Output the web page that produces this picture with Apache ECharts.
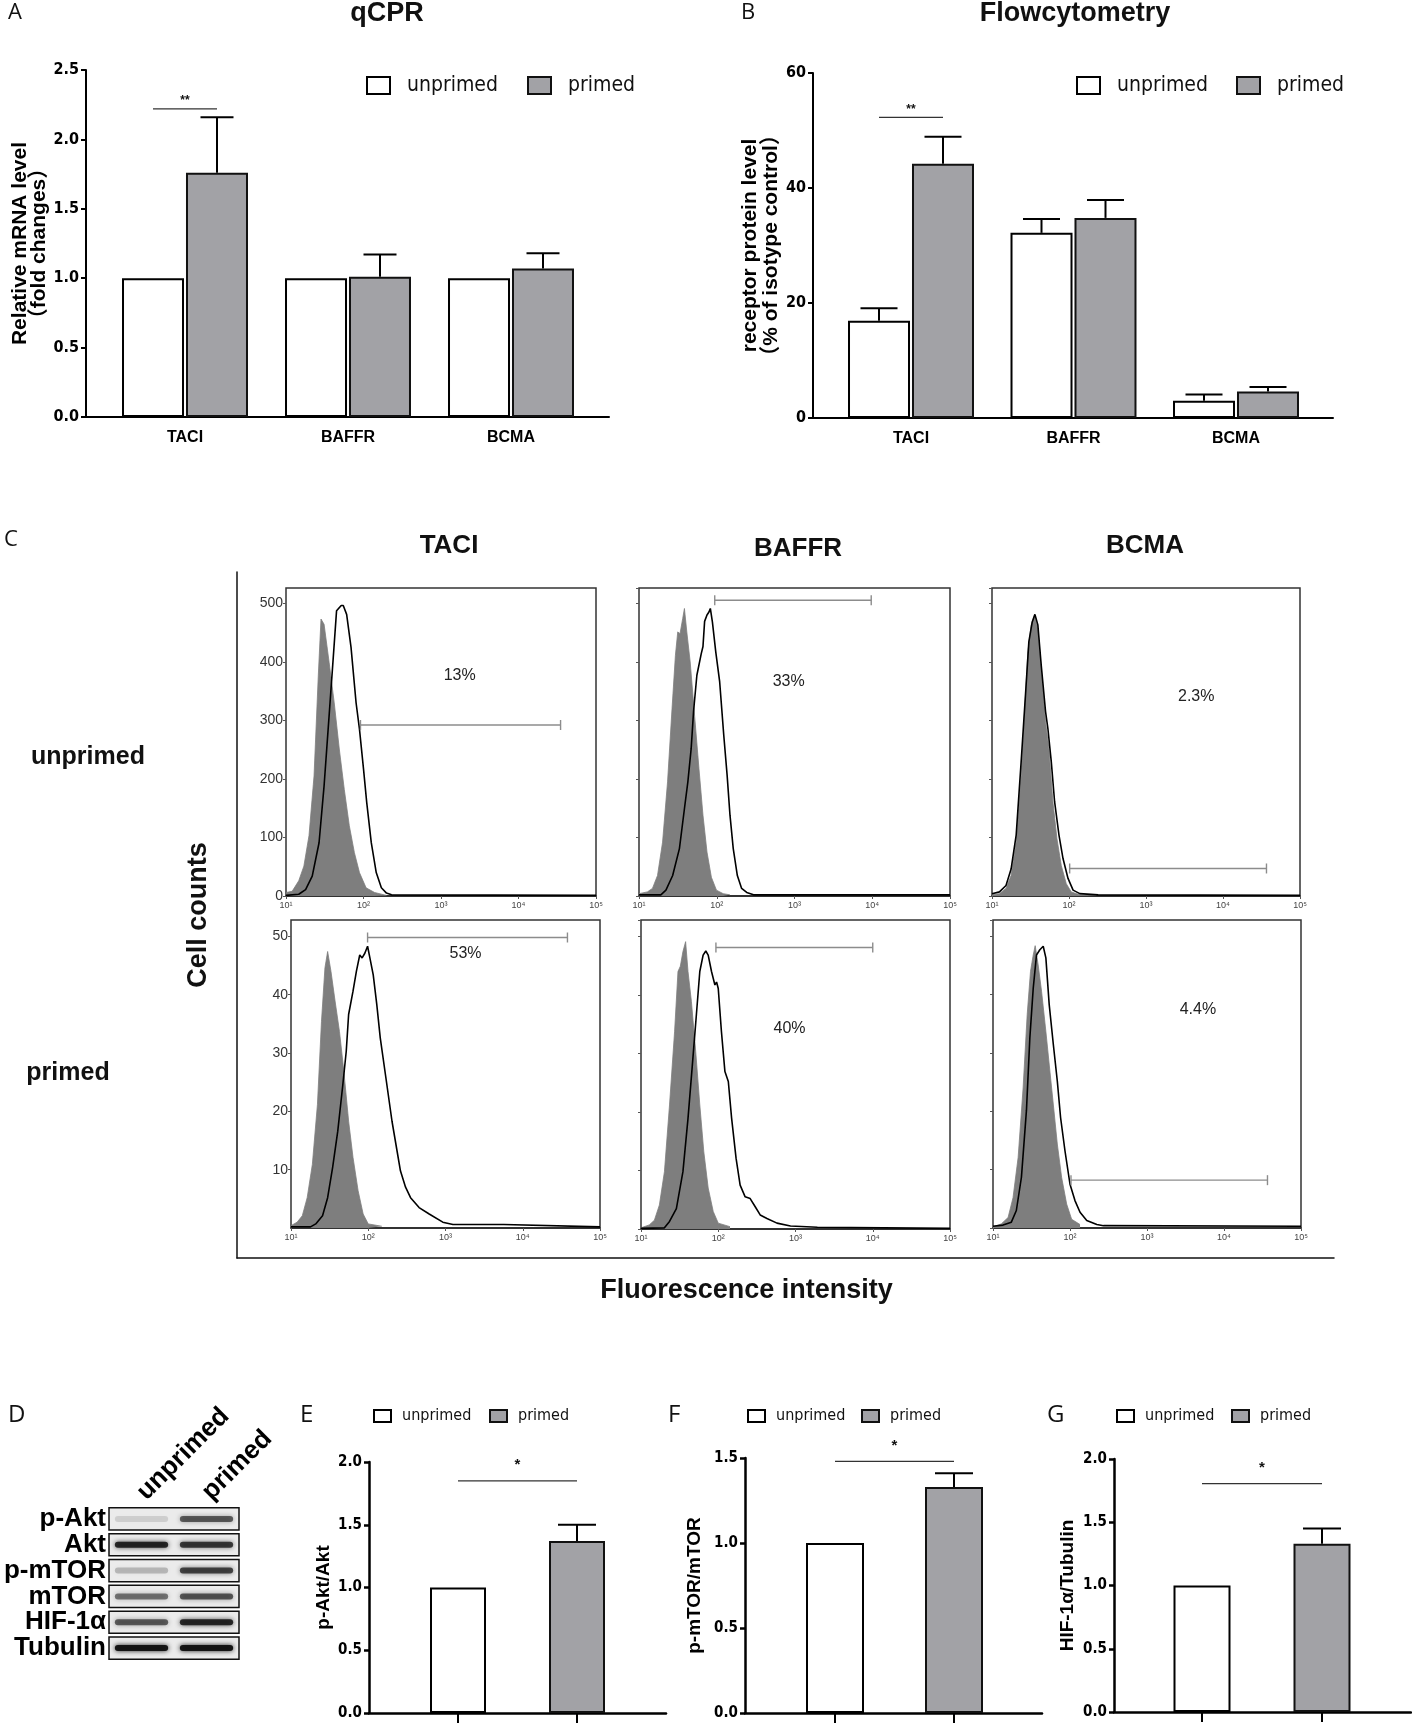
<!DOCTYPE html>
<html>
<head>
<meta charset="utf-8">
<script src="https://cdn.jsdelivr.net/npm/echarts@6.0.0/dist/echarts.min.js"></script>
<style>
  html, body { margin: 0; padding: 0; background: #fff; }
  #main { width: 1412px; height: 1727px; }
</style>
</head>
<body>
<div id="main"></div>
<script>
// ---- data ----
var receptorCats = ['TACI', 'BAFFR', 'BCMA'];
var groupCats = ['unprimed', 'primed'];

// A: qPCR (fold change)
var qpcrUnprimed = [1.0, 1.0, 1.0];
var qpcrPrimed = [1.76, 1.01, 1.07];
var qpcrPrimedErr = [0.40, 0.16, 0.11];
var qpcrSig = [[0, 0, 2.22]];
var qpcrSigText = ['**'];

// B: flow cytometry (% of isotype control)
var flowUnprimed = [16.9, 32.2, 3.0];
var flowUnprimedErr = [2.2, 2.4, 1.1];
var flowPrimed = [44.2, 34.8, 4.6];
var flowPrimedErr = [4.7, 3.1, 0.8];
var flowSig = [[0, 0, 52.3]];
var flowSigText = ['**'];

// C: histograms [fluorescence, cell count]
var taciUnprimedIso = [[10,6],[12,8],[14.6,26],[17,51],[19.8,103],[23,205],[26.1,376],[28.3,473],[31,464],[36,399],[41.9,330],[48.7,251],[56.5,182],[65.6,120],[76.3,74],[88.7,40],[108,14],[139,6],[198,1]];
var taciUnprimedStain = [[10,1],[14.6,3],[17.9,11],[21.8,34],[26.7,91],[31,188],[36,308],[40.6,405],[44.9,487],[47.6,490],[51.6,496],[54.8,496],[60.6,481],[69,425],[80.2,330],[88.7,285],[100,217],[110,160],[126,91],[146,40],[170,14],[198,5],[230,2],[100000,1]];
var baffrUnprimedIso = [[10,4],[12.8,7],[14.9,13],[17.3,35],[20.1,92],[23.3,195],[26.6,320],[29.4,411],[31.5,451],[33.7,448],[36.5,474],[38.4,491],[41.2,451],[45.5,400],[51.8,309],[59,218],[66.5,138],[74.9,75],[85.3,32],[99.1,10],[121,4],[148,2]];
var baffrUnprimedStain = [[10,2],[19.1,2],[22.2,10],[27.1,35],[33.1,81],[38.4,149],[42.5,195],[46.9,252],[50.3,315],[55.5,377],[63.2,414],[66.5,426],[69.8,469],[74.9,480],[79.4,485],[82.7,491],[87.9,468],[97.1,417],[109,366],[123,275],[136,206],[148,138],[163,81],[184,35],[209,13],[243,6],[297,2],[100000,2]];
var bcmaUnprimedIso = [[10,2],[12.5,4],[15.2,13],[17.7,35],[20.6,92],[23.9,206],[26.4,309],[29.2,417],[32.3,463],[35.7,480],[39.4,457],[43.6,388],[49.6,297],[54.8,252],[61.8,161],[69.7,98],[79.4,52],[92.2,21],[107,7],[138,2],[227,1]];
var bcmaUnprimedStain = [[10,4],[12.5,7],[15.2,18],[17.7,46],[20.6,104],[23.9,229],[27.2,343],[30.1,434],[33.3,468],[36.1,481],[39.4,463],[43.6,394],[49.6,315],[53.2,286],[58.9,229],[65,161],[74.1,104],[83.6,64],[97.1,30],[113,10],[138,4],[239,2],[100000,1]];
var taciPrimedIso = [[10,0.4],[12,1.0],[14,2.1],[16.2,5.2],[18.9,10.9],[22,21.2],[24.8,35.4],[27.5,44.6],[29.8,47.4],[32.9,44],[37.2,38.9],[42.4,33.7],[48.3,26.9],[55.7,18.3],[63.5,12.1],[73.9,6.4],[85.9,2.4],[100,0.7],[150,0.3]];
var taciPrimedStain = [[10,0.2],[17.9,0.2],[20.9,0.7],[25.6,2.1],[29.8,5.2],[34.6,10.4],[40.3,16.6],[46.9,24.6],[51.9,30.3],[55.7,36.6],[63.5,40.6],[70.2,44],[77.6,46.8],[83.3,46.3],[90.3,47.1],[98,48.3],[105,46.3],[116,43.4],[129,38.3],[143,32.6],[169,25.8],[203,18.3],[236,13.2],[261,9.8],[304,7],[353,5.2],[455,3.5],[615,2.4],[922,1],[1248,0.6],[2070,0.6],[5680,0.6],[100000,0.2]];
var baffrPrimedIso = [[10,0.2],[12.8,0.7],[14.9,1.5],[17.3,4.1],[20.1,9.8],[23.4,21.2],[27.2,33.7],[30.1,44],[32.3,44.9],[34.9,47.4],[37.8,49.1],[40.6,44],[44.9,38.9],[51.1,30.3],[57.7,21.2],[65,13.2],[74.1,7],[86.1,3],[100,1],[142,0.4]];
var baffrPrimedStain = [[10,0.1],[20.1,0.2],[23.4,1.3],[28.7,3.5],[34.9,9.8],[40.6,18.9],[46.2,28],[52.1,36.6],[57.7,44],[63.7,46.8],[69,47.5],[74.1,46.8],[81.8,44],[90.5,41.7],[95.1,42.2],[100,41.1],[110,33.7],[122,26.9],[135,25.2],[149,18.9],[170,12.1],[192,7.5],[223,5.5],[259,5.2],[301,3.8],[349,2.4],[427,1.8],[576,1],[861,0.5],[1920,0.3],[100000,0.1]];
var bcmaPrimedIso = [[10,0.2],[12.8,0.7],[15.7,1.8],[18.2,5.2],[21.2,12.1],[24.6,24],[27.8,36.6],[30.7,44],[33.3,46.8],[35.3,48.4],[38.6,45.1],[42.7,40.6],[48.6,33.7],[54.8,26.9],[61.8,20.2],[68.4,14.4],[77.8,8.7],[90.5,4.1],[105,1.5],[135,0.6]];
var bcmaPrimedStain = [[10,0.3],[13.5,0.5],[17.3,1],[20.1,3],[23.4,8.7],[27.2,20.2],[30.1,32.6],[33.3,41.1],[36.7,46.8],[40.6,47.7],[44.9,48.3],[48.6,46.3],[53.7,38.3],[60.7,31.5],[68.4,25.2],[75.5,18.9],[86.1,13.2],[100,7.5],[116,4.7],[135,2.7],[165,1.3],[223,0.6],[272,0.4],[100000,0.3]];

// gates [from, to, count] and percentages [x, count]
var histGates = [[91.4, 34900, 292], [94.2, 9700, 505], [102, 36700, 47], [98, 37900, 49.8], [93.3, 10000, 48.1], [103, 36700, 8.2]];
var histPctPos = [[1740, 376], [843, 367], [4490, 340], [1815, 47.1], [836, 34.3], [4580, 37.5]];
var histPctText = ['13%', '33%', '2.3%', '53%', '40%', '4.4%'];
var histYMax = [526, 526, 526, 52.8, 52.8, 52.8];
var histYStep = [100, 100, 100, 10, 10, 10];
var logTickLabels = ['10\u00b9', '10\u00b2', '10\u00b3', '10\u2074', '10\u2075'];

// D: western blot band intensity (0..1)
var blotRows = ['p-Akt', 'Akt', 'p-mTOR', 'mTOR', 'HIF-1\u03b1', 'Tubulin'];
var blotUnprimed = [0.12, 0.85, 0.22, 0.5, 0.6, 0.95];
var blotPrimed = [0.6, 0.75, 0.7, 0.62, 0.85, 0.95];

// E-G: ratios
var aktRatio = [1.0, 1.37];
var aktErr = [0, 0.13];
var aktSig = [[0, 1, 1.85]];
var mtorRatio = [1.0, 1.33];
var mtorErr = [0, 0.08];
var mtorSig = [[0, 1, 1.48]];
var hifRatio = [1.0, 1.33];
var hifErr = [0, 0.12];
var hifSig = [[0, 1, 1.805]];
var starText = ['*'];

// ---- fonts / colours ----
var NARROW = "'Liberation Sans Narrow','Arial Narrow','DejaVu Sans Condensed','Liberation Sans',sans-serif";
var ARIAL = "'Liberation Sans',Arial,'Noto Sans CJK SC',sans-serif";
var LETTER = "'Open Sans','Noto Sans',sans-serif";
var GRAY_BAR = '#a2a2a6';
var ISO_GRAY = '#7e7e7e';

var myChart = echarts.init(document.getElementById('main'));
var grid = [], xAxis = [], yAxis = [], series = [], legend = [], title = [];

function errRender(dx, capW) {
  return function (params, api) {
    var b = api.coord([api.value(0), api.value(1)]);
    var t = api.coord([api.value(0), api.value(1) + api.value(2)]);
    var x = b[0] + dx;
    var st = { stroke: '#000', lineWidth: 2 };
    return { type: 'group', children: [
      { type: 'line', shape: { x1: x, y1: b[1], x2: x, y2: t[1] }, style: st },
      { type: 'line', shape: { x1: x - capW / 2, y1: t[1], x2: x + capW / 2, y2: t[1] }, style: st }
    ] };
  };
}

function sigRender(dx0, dx1, texts, font, gap) {
  return function (params, api) {
    var a = api.coord([api.value(0), api.value(2)]);
    var b = api.coord([api.value(1), api.value(2)]);
    var x0 = a[0] + dx0, x1 = b[0] + dx1;
    return { type: 'group', children: [
      { type: 'line', shape: { x1: x0, y1: a[1], x2: x1, y2: a[1] }, style: { stroke: '#333', lineWidth: 1.3 } },
      { type: 'text', x: (x0 + x1) / 2, y: a[1] - gap, style: { text: texts[params.dataIndex], fill: '#111',
        font: 'bold ' + font + 'px ' + ARIAL, align: 'center', verticalAlign: 'bottom',
        textAlign: 'center', textVerticalAlign: 'bottom' } }
    ] };
  };
}

function addLegend(name, pos, lg) {
  legend.push({
    data: [name], left: pos[0], top: pos[1], icon: 'rect', padding: 0, itemGap: 0,
    itemWidth: lg.w, itemHeight: lg.h, selectedMode: false,
    textStyle: { fontFamily: NARROW, fontSize: lg.font, color: '#111', lineHeight: lg.h, padding: [0, 0, 0, lg.pad] }
  });
}

function addBarPanel(p) {
  var gf = grid.length;
  grid.push({ left: p.axisLeft, top: p.top, width: p.axisRight - p.axisLeft, height: p.bottom - p.top });
  var gb = grid.length;
  grid.push({ left: p.barLeft, top: p.top, width: p.barRight - p.barLeft, height: p.bottom - p.top });

  xAxis.push({ gridIndex: gf, type: 'value', min: 0, max: 1,
    axisLine: { show: true, onZero: false, lineStyle: { color: '#000', width: p.axisW } },
    axisTick: { show: false }, axisLabel: { show: false }, splitLine: { show: false } });
  yAxis.push({ gridIndex: gf, type: 'value', min: 0, max: p.yMax, interval: p.yInt,
    axisLine: { show: true, onZero: false, lineStyle: { color: '#000', width: p.axisW } },
    axisTick: { show: true, length: 5, lineStyle: { color: '#000', width: p.axisW } },
    splitLine: { show: false },
    axisLabel: { fontFamily: NARROW, fontWeight: 'bold', fontSize: p.tickFont, color: '#000', margin: 7,
      formatter: function (v) { return v.toFixed(p.dec); } },
    name: p.yName, nameLocation: 'middle', nameGap: p.nameGap,
    nameTextStyle: { fontFamily: ARIAL, fontWeight: 'bold', fontSize: p.nameFont, lineHeight: p.nameLH, color: '#000' } });

  var xb = xAxis.length;
  xAxis.push({ gridIndex: gb, type: 'category', data: p.cats,
    axisLine: { show: false },
    axisTick: p.paired ? { show: false } : { show: true, alignWithLabel: true, length: 10, lineStyle: { color: '#000', width: 2 } },
    axisLabel: p.paired ? { fontFamily: ARIAL, fontWeight: 'bold', fontSize: p.catFont, color: '#000', margin: 13 } : { show: false } });
  var yb = yAxis.length;
  yAxis.push({ gridIndex: gb, type: 'value', min: 0, max: p.yMax, show: false });

  var half = (p.bw + p.gapPx) / 2;
  var uData, pData, dxU, dxP, gapStr;
  if (p.paired) {
    uData = p.unprimed; pData = p.primed; dxU = -half; dxP = half;
    gapStr = (p.gapPx / p.bw * 100).toFixed(1) + '%';
  } else {
    uData = p.values.map(function (v, i) { return i === 0 ? v : '-'; });
    pData = p.values.map(function (v, i) { return i === 1 ? v : '-'; });
    dxU = 0; dxP = 0; gapStr = '-100%';
  }
  series.push({ name: 'unprimed', type: 'bar', xAxisIndex: xb, yAxisIndex: yb, data: uData,
    barWidth: p.bw, barGap: gapStr, itemStyle: { color: '#fff', borderColor: '#000', borderWidth: 2 } });
  series.push({ name: 'primed', type: 'bar', xAxisIndex: xb, yAxisIndex: yb, data: pData,
    barWidth: p.bw, barGap: gapStr, itemStyle: { color: GRAY_BAR, borderColor: '#111', borderWidth: 2 } });

  function errSeries(vals, errs, dx) {
    var d = [];
    vals.forEach(function (v, i) { if (errs[i] > 0) d.push([i, v, errs[i]]); });
    series.push({ type: 'custom', xAxisIndex: xb, yAxisIndex: yb, data: d, z: 3,
      renderItem: errRender(dx, p.capW) });
  }
  if (p.paired) {
    if (p.unprimedErr) errSeries(p.unprimed, p.unprimedErr, dxU);
    errSeries(p.primed, p.primedErr, dxP);
  } else {
    errSeries(p.values, p.errs, 0);
  }
  series.push({ type: 'custom', xAxisIndex: xb, yAxisIndex: yb, data: p.sig, z: 4, clip: false,
    renderItem: p.paired ? sigRender(-half, half, p.sigText, p.starFont, p.starGap)
                         : sigRender(0, 0, p.sigText, p.starFont, p.starGap) });

  addLegend('unprimed', p.legU, p.lg);
  addLegend('primed', p.legP, p.lg);
}

// ---- A ----
addBarPanel({ axisLeft: 86, axisRight: 609, top: 70, bottom: 417, barLeft: 103.5, barRight: 592.5,
  yMax: 2.5, yInt: 0.5, dec: 1, cats: receptorCats, paired: true,
  unprimed: qpcrUnprimed, primed: qpcrPrimed, unprimedErr: null, primedErr: qpcrPrimedErr,
  sig: qpcrSig, sigText: qpcrSigText, bw: 62, gapPx: 2, capW: 33, axisW: 2,
  tickFont: 16, catFont: 16, yName: 'Relative mRNA level\n\uff08fold changes\uff09', nameGap: 34, nameFont: 21, nameLH: 19,
  starFont: 12, starGap: 2, legU: [366, 75], legP: [527, 75], lg: { w: 23, h: 17, font: 21, pad: 12 } });

// ---- B ----
addBarPanel({ axisLeft: 813, axisRight: 1333, top: 73, bottom: 418, barLeft: 829.75, barRight: 1317.25,
  yMax: 60, yInt: 20, dec: 0, cats: receptorCats, paired: true,
  unprimed: flowUnprimed, primed: flowPrimed, unprimedErr: flowUnprimedErr, primedErr: flowPrimedErr,
  sig: flowSig, sigText: flowSigText, bw: 62, gapPx: 2, capW: 37, axisW: 2,
  tickFont: 16, catFont: 16, yName: 'receptor protein level\n\uff08% of isotype control\uff09', nameGap: 31, nameFont: 21, nameLH: 21,
  starFont: 12, starGap: 2, legU: [1076, 75], legP: [1236, 75], lg: { w: 23, h: 17, font: 21, pad: 12 } });

// ---- E, F, G ----
var smallLg = { w: 17, h: 12, font: 16, pad: 6 };
addBarPanel({ axisLeft: 369, axisRight: 666, top: 1462, bottom: 1713, barLeft: 398.5, barRight: 636.5,
  yMax: 2, yInt: 0.5, dec: 1, cats: groupCats, paired: false, values: aktRatio, errs: aktErr,
  sig: aktSig, sigText: starText, bw: 56, gapPx: 0, capW: 38, axisW: 2.5,
  tickFont: 15, yName: 'p-Akt/Akt', nameGap: 31, nameFont: 19, nameLH: 20,
  starFont: 15, starGap: 8, legU: [373, 1408], legP: [489, 1408], lg: smallLg });
addBarPanel({ axisLeft: 745, axisRight: 1042, top: 1458, bottom: 1713, barLeft: 775.5, barRight: 1013.5,
  yMax: 1.5, yInt: 0.5, dec: 1, cats: groupCats, paired: false, values: mtorRatio, errs: mtorErr,
  sig: mtorSig, sigText: starText, bw: 58, gapPx: 0, capW: 38, axisW: 2.5,
  tickFont: 15, yName: 'p-mTOR/mTOR', nameGap: 40, nameFont: 19, nameLH: 20,
  starFont: 15, starGap: 8, legU: [747, 1408], legP: [861, 1408], lg: smallLg });
addBarPanel({ axisLeft: 1114, axisRight: 1411, top: 1459, bottom: 1712, barLeft: 1142, barRight: 1382,
  yMax: 2, yInt: 0.5, dec: 1, cats: groupCats, paired: false, values: hifRatio, errs: hifErr,
  sig: hifSig, sigText: starText, bw: 57, gapPx: 0, capW: 38, axisW: 2.5,
  tickFont: 15, yName: 'HIF-1\u03b1/Tubulin', nameGap: 36, nameFont: 19, nameLH: 20,
  starFont: 15, starGap: 8, legU: [1116, 1408], legP: [1231, 1408], lg: smallLg });

// ---- C: outer frame with axis names ----
var gc = grid.length;
grid.push({ left: 237, top: 572, width: 1097, height: 686 });
xAxis.push({ gridIndex: gc, type: 'value', min: 0, max: 1,
  axisLine: { show: true, onZero: false, lineStyle: { color: '#111', width: 1.5 } },
  axisTick: { show: false }, axisLabel: { show: false }, splitLine: { show: false },
  name: 'Fluorescence intensity', nameLocation: 'middle', nameGap: 19,
  nameTextStyle: { fontFamily: ARIAL, fontWeight: 'bold', fontSize: 27, color: '#111', padding: [0, 78, 0, 0] } });
yAxis.push({ gridIndex: gc, type: 'value', min: 0, max: 1,
  axisLine: { show: true, onZero: false, lineStyle: { color: '#111', width: 1.5 } },
  axisTick: { show: false }, axisLabel: { show: false }, splitLine: { show: false },
  name: 'Cell counts', nameLocation: 'middle', nameGap: 25,
  nameTextStyle: { fontFamily: ARIAL, fontWeight: 'bold', fontSize: 27, color: '#111' } });

// ---- C: histograms ----
var histIso = [taciUnprimedIso, baffrUnprimedIso, bcmaUnprimedIso, taciPrimedIso, baffrPrimedIso, bcmaPrimedIso];
var histStain = [taciUnprimedStain, baffrUnprimedStain, bcmaUnprimedStain, taciPrimedStain, baffrPrimedStain, bcmaPrimedStain];
var histBoxes = [[286, 588, 310, 308], [639, 588, 311, 308], [992, 588, 308, 308],
                 [291, 920, 309, 308], [641, 920, 309, 309], [993, 920, 308, 308]];

function gateRender(params, api) {
  var a = api.coord([api.value(0), api.value(2)]);
  var b = api.coord([api.value(1), api.value(2)]);
  var st = { stroke: '#8c8c8c', lineWidth: 1.4 };
  return { type: 'group', children: [
    { type: 'line', shape: { x1: a[0], y1: a[1], x2: b[0], y2: b[1] }, style: st },
    { type: 'line', shape: { x1: a[0], y1: a[1] - 5, x2: a[0], y2: a[1] + 5 }, style: st },
    { type: 'line', shape: { x1: b[0], y1: b[1] - 5, x2: b[0], y2: b[1] + 5 }, style: st }
  ] };
}

histBoxes.forEach(function (bx, k) {
  var g = grid.length;
  grid.push({ left: bx[0], top: bx[1], width: bx[2], height: bx[3], show: true,
    borderColor: '#333', borderWidth: 1.5, backgroundColor: '#fff' });
  var xi = xAxis.length;
  xAxis.push({ gridIndex: g, type: 'log', logBase: 10, min: 10, max: 100000, splitNumber: 4,
    axisLine: { show: true, onZero: false, lineStyle: { color: '#222', width: 1.5 } },
    axisTick: { show: true, length: 3, lineStyle: { color: '#555', width: 1 } },
    splitLine: { show: false },
    axisLabel: { fontFamily: ARIAL, fontSize: 9, color: '#444', margin: 5,
      formatter: function (v) { return logTickLabels[Math.round(Math.log10(v)) - 1]; } } });
  var yi = yAxis.length;
  var first = (k % 3 === 0);
  yAxis.push({ gridIndex: g, type: 'value', min: 0, max: histYMax[k], interval: histYStep[k],
    axisLine: { show: false }, splitLine: { show: false },
    axisTick: { show: true, length: 3, lineStyle: { color: '#555', width: 1 } },
    axisLabel: { show: first, fontFamily: ARIAL, fontSize: 14, color: '#333', margin: 3,
      showMaxLabel: false, showMinLabel: k === 0 } });
  series.push({ type: 'line', name: 'isotype', xAxisIndex: xi, yAxisIndex: yi, data: histIso[k],
    symbol: 'none', lineStyle: { width: 0.8, color: ISO_GRAY }, areaStyle: { color: ISO_GRAY, opacity: 1 }, z: 2 });
  series.push({ type: 'line', name: 'stained', xAxisIndex: xi, yAxisIndex: yi, data: histStain[k],
    symbol: 'none', lineStyle: { width: 1.6, color: '#000' }, z: 3 });
  series.push({ type: 'custom', xAxisIndex: xi, yAxisIndex: yi, data: [histGates[k]], z: 4, renderItem: gateRender });
  series.push({ type: 'custom', xAxisIndex: xi, yAxisIndex: yi, data: [histPctPos[k]], z: 4,
    renderItem: function (params, api) {
      var c = api.coord([api.value(0), api.value(1)]);
      return { type: 'text', x: c[0], y: c[1], style: { text: histPctText[k], fill: '#222',
        font: '16px ' + ARIAL, align: 'center', verticalAlign: 'middle', textAlign: 'center', textVerticalAlign: 'middle' } };
    } });
});

// ---- D: western blot ----
var gd = grid.length;
grid.push({ left: 109, top: 1506, width: 130, height: 155 });
var xd = xAxis.length;
xAxis.push({ gridIndex: gd, type: 'category', data: groupCats, position: 'top',
  axisLine: { show: false }, axisTick: { show: false },
  axisLabel: { rotate: -45, interval: 0, margin: 10, fontFamily: ARIAL, fontWeight: 'bold', fontSize: 26, color: '#000' } });
var yd = yAxis.length;
yAxis.push({ gridIndex: gd, type: 'category', data: blotRows, inverse: true,
  axisLine: { show: false }, axisTick: { show: false },
  axisLabel: { interval: 0, margin: 3, fontFamily: ARIAL, fontWeight: 'bold', fontSize: 26, color: '#000' } });
series.push({ type: 'custom', xAxisIndex: xd, yAxisIndex: yd,
  data: blotRows.map(function (r, i) { return [i, blotUnprimed[i], blotPrimed[i]]; }),
  renderItem: function (params, api) {
    var row = api.value(0);
    var cs = params.coordSys;
    var c0 = api.coord([0, row]), c1 = api.coord([1, row]);
    var rowH = api.size([0, 1])[1];
    var boxH = rowH * 0.86;
    var laneW = c1[0] - c0[0];
    var bw = laneW * 0.82, bh = 6;
    function band(c, a) {
      var col = 'rgba(15,15,15,' + a + ')';
      return { type: 'rect', shape: { x: c[0] - bw / 2, y: c[1] - bh / 2, width: bw, height: bh, r: 3 },
        style: { fill: col, shadowBlur: 5, shadowColor: col } };
    }
    return { type: 'group', children: [
      { type: 'rect', shape: { x: cs.x, y: c0[1] - boxH / 2, width: cs.width, height: boxH },
        style: { fill: '#ebebeb', stroke: '#111', lineWidth: 1.5 } },
      band(c0, api.value(1)), band(c1, api.value(2))
    ] };
  } });

// ---- text labels ----
function addTitle(text, left, top, size, weight, family, align) {
  title.push({ text: text, left: left, top: top, padding: 0, textAlign: align || 'left',
    textStyle: { fontSize: size, fontWeight: weight, fontFamily: family, color: '#111' } });
}
addTitle('A', 8, 2, 22, 'normal', LETTER);
addTitle('qCPR', 387, 0, 27, 'bold', ARIAL, 'center');
addTitle('B', 741, 2, 22, 'normal', LETTER);
addTitle('Flowcytometry', 1075, 0, 27, 'bold', ARIAL, 'center');
addTitle('C', 4, 529, 22, 'normal', LETTER);
addTitle('TACI', 449, 533, 26, 'bold', ARIAL, 'center');
addTitle('BAFFR', 798, 536, 26, 'bold', ARIAL, 'center');
addTitle('BCMA', 1145, 533, 26, 'bold', ARIAL, 'center');
addTitle('unprimed', 88, 745, 25, 'bold', ARIAL, 'center');
addTitle('primed', 68, 1061, 25, 'bold', ARIAL, 'center');
addTitle('D', 8, 1403, 24, 'normal', LETTER);
addTitle('E', 300, 1403, 24, 'normal', LETTER);
addTitle('F', 668, 1403, 24, 'normal', LETTER);
addTitle('G', 1047, 1403, 24, 'normal', LETTER);

var option = {
  animation: false,
  backgroundColor: '#fff',
  title: title,
  legend: legend,
  grid: grid,
  xAxis: xAxis,
  yAxis: yAxis,
  series: series
};
myChart.setOption(option);
</script>
</body>
</html>
